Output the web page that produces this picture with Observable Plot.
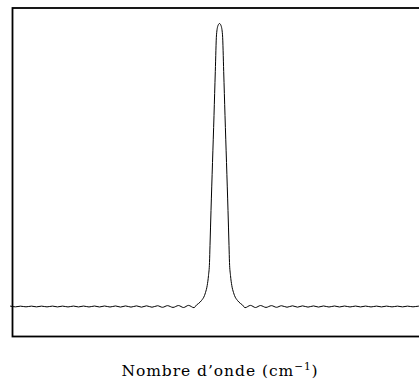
<!DOCTYPE html>
<html><head><meta charset="utf-8">
<script src="https://cdn.jsdelivr.net/npm/d3@7"></script>
<script src="https://cdn.jsdelivr.net/npm/@observablehq/plot@0.6"></script>
<style>
html,body{margin:0;padding:0;background:#fff;overflow:hidden;width:419px;height:385px}
#chart{position:absolute;left:0;top:0;width:430px}
#chart svg{max-width:none !important;width:430px;height:345px}
#xlabel{position:absolute;left:0;width:440px;top:362px;text-align:center;font-family:"DejaVu Serif";font-size:15.5px;letter-spacing:0.95px;color:#000;white-space:nowrap}
#xlabel sup{font-size:10.5px;vertical-align:6px;line-height:0}
</style></head><body>
<div id="chart"></div>
<div id="xlabel"><span id="xl"></span> (cm<sup>−1</sup>)</div>
<script>
const xLabelText = "Nombre d’onde";
const wavenumber = [
  -209, -204, -199, -193.5, -188, -183, -178, -172.5, -167, -162, -157, -151.5,
  -146, -141, -136, -130.5, -125, -120, -115, -109.5, -104, -99, -94, -88.5,
  -83, -78, -73, -67.5, -62, -57, -52, -46.5, -41, -36, -31, -25.5,
  -23, -21, -18, -15, -14, -12.3, -11, -10, -9.5, -8.5, -7, -5.5, -4.2, -3, -1.5,
  0,
  1.5, 3, 4.2, 5.5, 7, 8.5, 9.5, 10, 11, 12.3, 14, 15, 18, 21, 23,
  25.5, 31, 36, 41, 46.5, 52, 57, 62, 67.5, 73, 78, 83, 88.5, 94, 99, 104,
  109.5, 115, 120, 125, 130.5, 136, 141, 146, 151.5, 157, 162, 167, 172.5,
  178, 183, 188, 193.5, 199, 204, 209
];
const intensity = [
  0.0012, -0.0012, 0.0012, -0.0012, 0.0013, -0.0013, 0.0013, -0.0013, 0.0014, -0.0014, 0.0014, -0.0015,
  0.0015, -0.0015, 0.0016, -0.0016, 0.0017, -0.0017, 0.0018, -0.0018, 0.0019, -0.0020, 0.0020, -0.0021,
  0.0022, -0.0023, 0.0024, -0.0025, 0.0027, -0.0028, 0.0030, -0.0032, 0.0034, -0.0036, 0.0039, -0.0042,
  0.0053, 0.0106, 0.0212, 0.0389, 0.0495, 0.0742, 0.1095, 0.1555, 0.2155, 0.3392, 0.5088, 0.6749, 0.8300, 0.9600, 0.9929,
  1.0,
  0.9929, 0.9600, 0.8300, 0.6749, 0.5088, 0.3392, 0.2155, 0.1555, 0.1095, 0.0742, 0.0495, 0.0389, 0.0212, 0.0106, 0.0053,
  -0.0042, 0.0039, -0.0036, 0.0034, -0.0032, 0.0030, -0.0028, 0.0027, -0.0025, 0.0024, -0.0023, 0.0022, -0.0021, 0.0020, -0.0020, 0.0019,
  -0.0018, 0.0018, -0.0017, 0.0017, -0.0016, 0.0016, -0.0015, 0.0015, -0.0015, 0.0014, -0.0014, 0.0014, -0.0013,
  0.0013, -0.0013, 0.0013, -0.0012, 0.0012, -0.0012, 0.0012
];
document.getElementById("xl").textContent = xLabelText;
const data = wavenumber.map((x, i) => ({x, y: intensity[i]}));
const plot = Plot.plot({
  width: 430, height: 345,
  marginLeft: 12, marginRight: 4, marginTop: 7.5, marginBottom: 9,
  x: {domain: [-207, 207], axis: null},
  y: {domain: [-0.106, 1.0548], axis: null},
  marks: [
    Plot.line(data, {x: "x", y: "y", stroke: "black", strokeWidth: 1, curve: "monotone-x"}),
    Plot.frame({stroke: "black", strokeWidth: 1.8})
  ]
});
document.getElementById("chart").appendChild(plot);
</script>
</body></html>
